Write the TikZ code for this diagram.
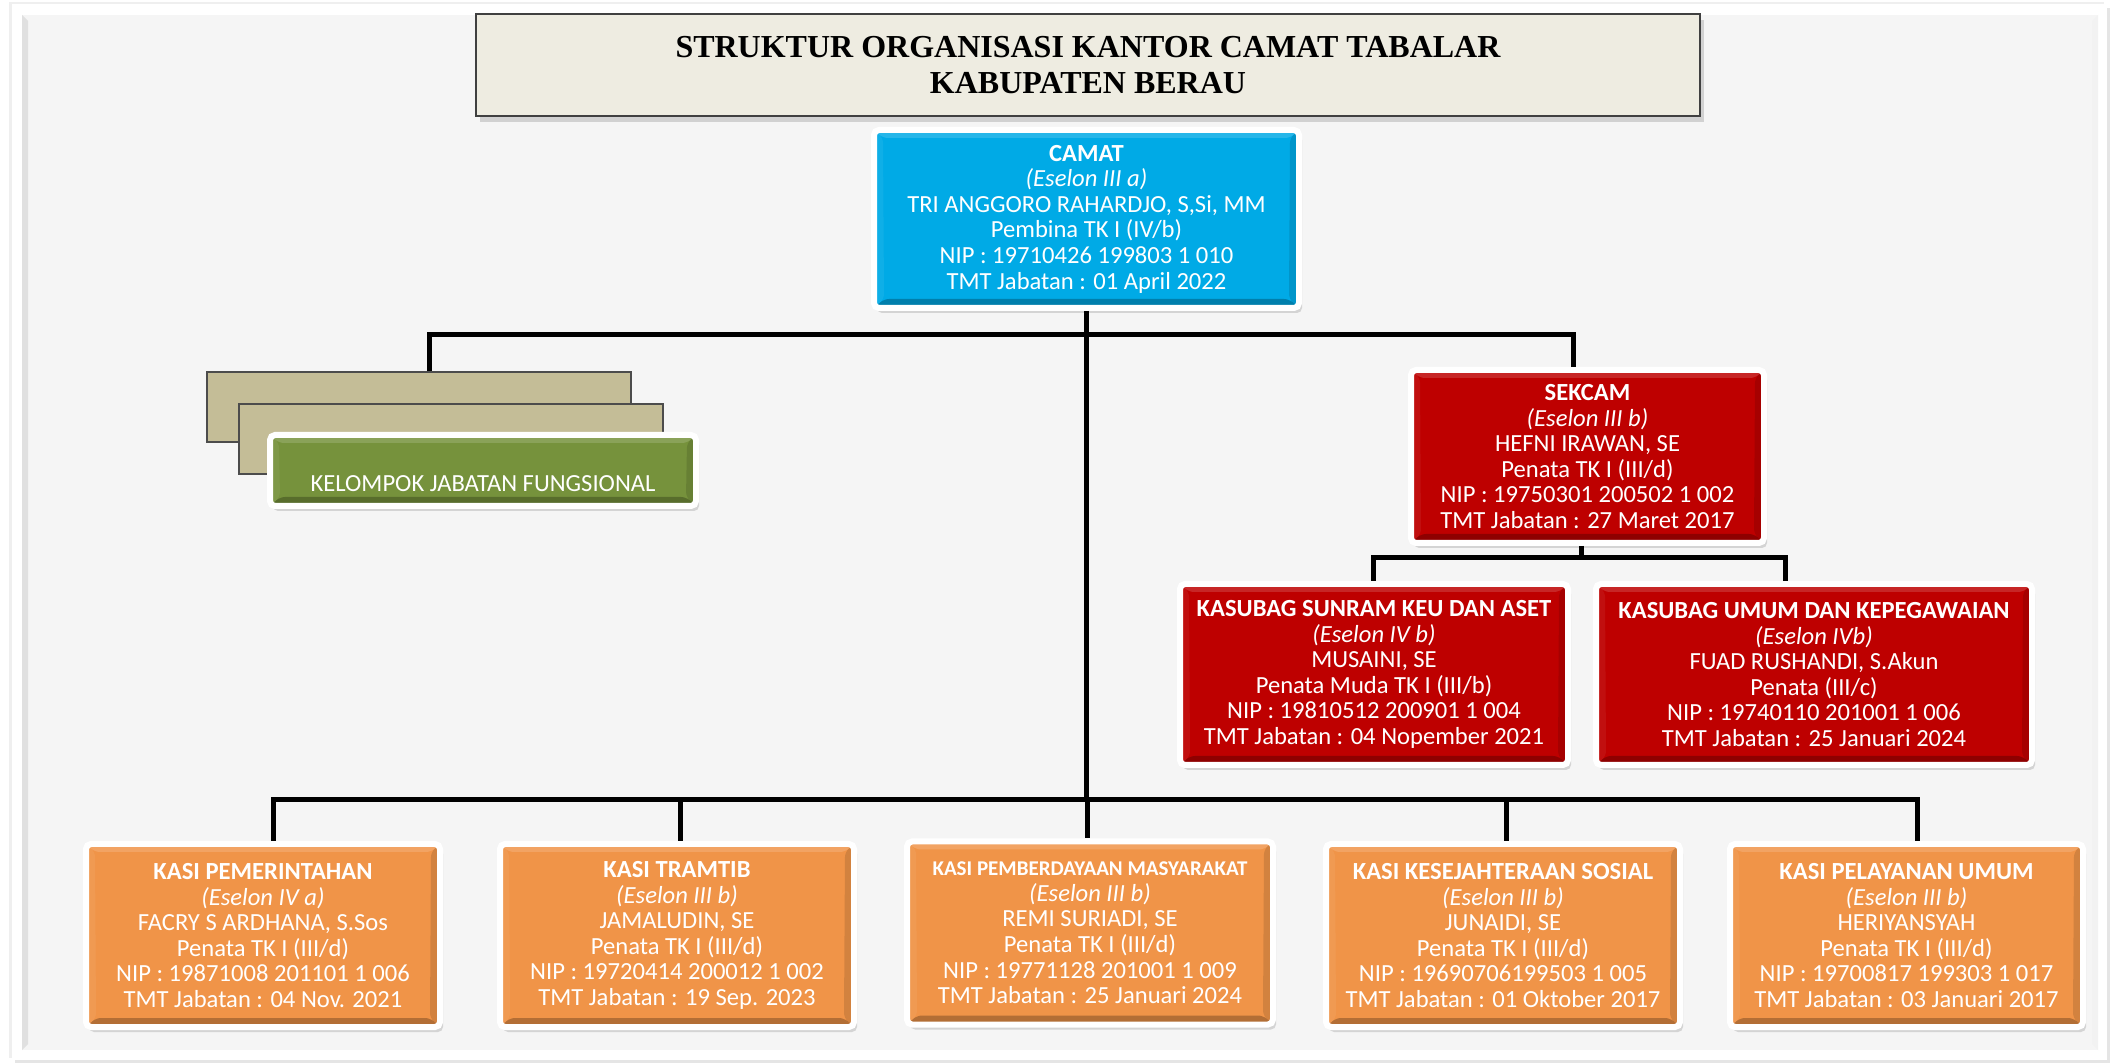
\documentclass[tikz,border=0pt]{standalone}
\usepackage{fontspec}
\setmainfont{Carlito}
\newfontfamily\titlefont{Liberation Serif}
\usetikzlibrary{shadows}
\definecolor{bgc}{HTML}{F5F5F5}
\definecolor{camatblue}{RGB}{0,170,230}
\definecolor{darkred}{RGB}{190,0,0}
\definecolor{orangebox}{RGB}{240,148,72}
\definecolor{olivebox}{RGB}{118,146,60}
\definecolor{tanbox}{RGB}{196,189,151}
\definecolor{titlebg}{RGB}{238,236,225}
\tikzset{
  conn/.style={line width=2.5pt, black, line join=miter},
  bevel/.style={path picture={
    \fill[black,opacity=.25] (path picture bounding box.south west) -- (path picture bounding box.south east)
      -- ([shift={(-5pt,4.5pt)}]path picture bounding box.south east) -- ([shift={(5pt,4.5pt)}]path picture bounding box.south west) -- cycle;
    \fill[white,opacity=.15] (path picture bounding box.north west) -- (path picture bounding box.north east)
      -- ([shift={(-4.5pt,-4pt)}]path picture bounding box.north east) -- ([shift={(4.5pt,-4pt)}]path picture bounding box.north west) -- cycle;
    \fill[black,opacity=.12] (path picture bounding box.south east) -- (path picture bounding box.north east)
      -- ([shift={(-4.5pt,-4pt)}]path picture bounding box.north east) -- ([shift={(-5pt,4.5pt)}]path picture bounding box.south east) -- cycle;
    \fill[white,opacity=.06] (path picture bounding box.south west) -- (path picture bounding box.north west)
      -- ([shift={(4.5pt,-4pt)}]path picture bounding box.north west) -- ([shift={(5pt,4.5pt)}]path picture bounding box.south west) -- cycle;
  }},
  orgbox/.style={draw=white, line width=3pt, rounded corners=2.5pt, text=white, align=center,
    inner sep=0pt, font=\fontsize{12.3}{12.8}\selectfont,
    drop shadow={shadow xshift=1.5pt, shadow yshift=-2.5pt, opacity=.28}, bevel},
  tanstyle/.style={draw=black!70, line width=0.6pt, fill=tanbox, minimum width=212pt, minimum height=35pt, inner sep=0pt},
}
\begin{document}
\begin{tikzpicture}[x=0.5pt,y=-0.5pt]
\useasboundingbox (0,0) rectangle (2117,1063);
% page frame
\fill[white] (0,0) rectangle (2117,1063);
\fill[white, drop shadow={shadow xshift=-1.5pt, shadow yshift=1pt, opacity=.12}, drop shadow={shadow xshift=1.5pt, shadow yshift=-2pt, opacity=.2}] (12,4) rectangle (2107,1060);
\fill[bgc] (22,15) rectangle (2098,1050);
\fill[black!12] (22,15) -- (28,21) -- (28,1044) -- (22,1050) -- cycle;
\fill[black!5] (2098,15) -- (2092,21) -- (2092,1044) -- (2098,1050) -- cycle;

% title
\node[draw=black!75, line width=0.8pt, fill=titlebg, minimum width=612pt, minimum height=51pt, align=center,
  drop shadow={shadow xshift=2pt, shadow yshift=-3pt, opacity=.3},
  font=\titlefont\bfseries\fontsize{16}{18}\selectfont] (title) at (1088,65)
  {STRUKTUR ORGANISASI KANTOR CAMAT TABALAR\\KABUPATEN BERAU};

% camat
\node[orgbox, fill=camatblue, minimum width=212.5pt, minimum height=89pt] (camat) at (1086.5,219)
  {\textbf{CAMAT}\\\textit{(Eselon III a)}\\TRI ANGGORO RAHARDJO, S,Si, MM\\Pembina TK I (IV/b)\\NIP : 19710426 199803 1 010\\TMT Jabatan : 01 April 2022};

% fungsional
\node[tanstyle] (tan1) at (419,407) {};
\node[tanstyle] (tan2) at (451,439) {};
\node[orgbox, fill=olivebox, minimum width=213pt, minimum height=35.5pt] (fung) at (483,470.5) {};
\node[text=white, font=\fontsize{12.3}{12.8}\selectfont, inner sep=0pt] (fungtext) at (483,484) {KELOMPOK JABATAN FUNGSIONAL};

% sekcam
\node[orgbox, fill=darkred, minimum width=176.5pt, minimum height=86.5pt] (sekcam) at (1587.5,456.5)
  {\textbf{SEKCAM}\\\textit{(Eselon III b)}\\HEFNI IRAWAN, SE\\Penata TK I (III/d)\\NIP : 19750301 200502 1 002\\TMT Jabatan : 27 Maret 2017};

\node[orgbox, fill=darkred, minimum width=194pt, minimum height=90.5pt] (ks1) at (1374,674.5)
  {\textbf{KASUBAG SUNRAM KEU DAN ASET}\\\textit{(Eselon IV b)}\\MUSAINI, SE\\Penata Muda TK I (III/b)\\NIP : 19810512 200901 1 004\\TMT Jabatan : 04 Nopember 2021};
\node[orgbox, fill=darkred, minimum width=218pt, minimum height=90.5pt] (ks2) at (1814,674.5)
  {\textbf{KASUBAG UMUM DAN KEPEGAWAIAN}\\\textit{(Eselon IVb)}\\FUAD RUSHANDI, S.Akun\\Penata (III/c)\\NIP : 19740110 201001 1 006\\TMT Jabatan : 25 Januari 2024};

% kasi row
\node[orgbox, fill=orangebox, minimum width=177pt, minimum height=91.5pt] (k1) at (263,935.5)
  {\textbf{KASI PEMERINTAHAN}\\\textit{(Eselon IV a)}\\FACRY S ARDHANA, S.Sos\\Penata TK I (III/d)\\NIP : 19871008 201101 1 006\\TMT Jabatan : 04 Nov. 2021};
\node[orgbox, fill=orangebox, minimum width=177pt, minimum height=91.5pt] (k2) at (677,935.5)
  {\textbf{KASI TRAMTIB}\\\textit{(Eselon III b)}\\JAMALUDIN, SE\\Penata TK I (III/d)\\NIP : 19720414 200012 1 002\\TMT Jabatan : 19 Sep. 2023};
\node[orgbox, fill=orangebox, minimum width=183pt, minimum height=91.5pt] (k3) at (1090,933)
  {{\bfseries\fontsize{10.5}{12.8}\selectfont KASI PEMBERDAYAAN MASYARAKAT}\\\textit{(Eselon III b)}\\REMI SURIADI, SE\\Penata TK I (III/d)\\NIP : 19771128 201001 1 009\\TMT Jabatan : 25 Januari 2024};
\node[orgbox, fill=orangebox, minimum width=177pt, minimum height=91.5pt] (k4) at (1503,935.5)
  {\textbf{KASI KESEJAHTERAAN SOSIAL}\\\textit{(Eselon III b)}\\JUNAIDI, SE\\Penata TK I (III/d)\\NIP : 19690706199503 1 005\\TMT Jabatan : 01 Oktober 2017};
\node[orgbox, fill=orangebox, minimum width=176.5pt, minimum height=91.5pt] (k5) at (1906.5,935.5)
  {\textbf{KASI PELAYANAN UMUM}\\\textit{(Eselon III b)}\\HERIYANSYAH\\Penata TK I (III/d)\\NIP : 19700817 199303 1 017\\TMT Jabatan : 03 Januari 2017};

% connectors
\draw[conn] (tan1.north -| 429,0) -- (429,335) -- (1573,335) -- (sekcam.north -| 1573,0);
\draw[conn] (camat.south) -- (camat.south |- 0,800);
\draw[conn] (k1.north -| 273,0) -- (273,800) -- (1917,800) -- (k5.north -| 1917,0);
\draw[conn] (680,800) -- (k2.north -| 680,0);
\draw[conn] (1087,800) -- (k3.north -| 1087,0);
\draw[conn] (1506,800) -- (k4.north -| 1506,0);
\draw[conn] (sekcam.south -| 1581,0) -- (1581,558);
\draw[conn] (ks1.north -| 1373,0) -- (1373,558) -- (1785,558) -- (ks2.north -| 1785,0);
\end{tikzpicture}
\end{document}
